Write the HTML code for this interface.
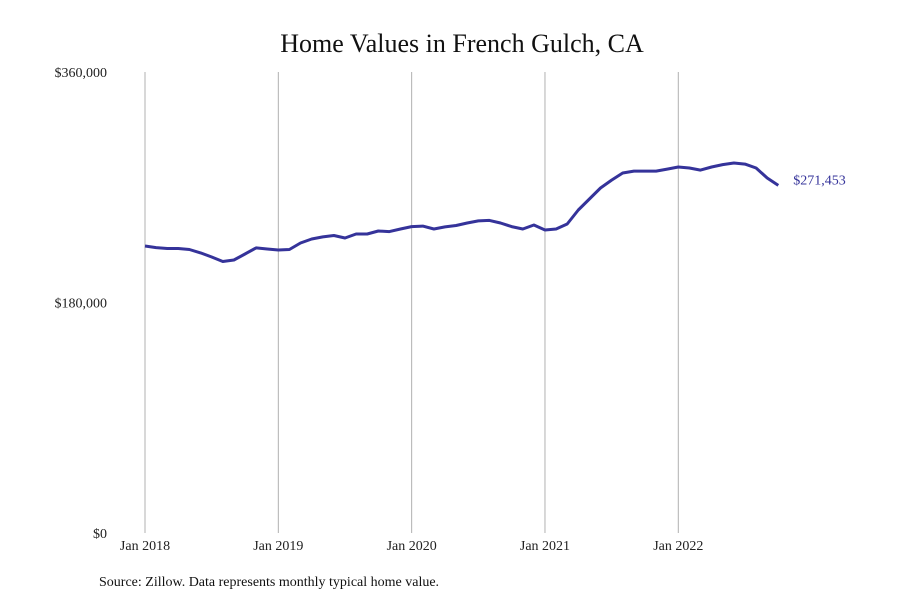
<!DOCTYPE html>
<html><head><meta charset="utf-8"><style>
body{margin:0;background:#fff;}
svg{display:block;font-family:"Liberation Serif",serif;}
</style></head><body>
<svg width="900" height="600">
<text x="462" y="52" text-anchor="middle" font-size="26" fill="#111">Home Values in French Gulch, CA</text>
<g id="grid"></g><g id="yticks"></g><g id="xticks"></g>
<path id="line" fill="none" stroke="#35339a" stroke-width="3" stroke-linejoin="round"/>
<text id="lastlbl" font-size="14" fill="#35339a"></text>
<text x="99" y="586" font-size="14" fill="#111">Source: Zillow. Data represents monthly typical home value.</text>
</svg>
<script>
const xTickLabels=["Jan 2018","Jan 2019","Jan 2020","Jan 2021","Jan 2022"];
const yTicks=[0,180000,360000];
const yTickLabels=["$0","$180,000","$360,000"];
const values=[224100,222900,222200,222200,221400,218700,215500,212000,213200,217900,222600,221800,221000,221400,226500,229600,231200,232300,230400,233500,233500,235800,235400,237400,239300,239700,237400,239000,240100,242100,243700,244100,242100,239300,237400,240500,236600,237400,241300,252200,260800,269400,275600,281100,282600,282600,282600,284200,285800,285000,283400,285800,287700,288900,288100,285000,277200,271453];
const lastLabel="$271,453";
const NS="http://www.w3.org/2000/svg";
const x=m=>145+m*(533.3/48);
const y=v=>533-v*461/360000;
function mk(t,a,p){const e=document.createElementNS(NS,t);for(const k in a)e.setAttribute(k,a[k]);p.appendChild(e);return e;}
const grid=document.getElementById('grid'),yt=document.getElementById('yticks'),xt=document.getElementById('xticks');
xTickLabels.forEach((l,i)=>{
 const gx=x(i*12);
 const g=mk('line',{x1:gx,x2:gx,y1:72,y2:533,stroke:'#b0b0b0','stroke-width':1},grid);
 
 
 const t=mk('text',{x:gx,y:550,'text-anchor':'middle','font-size':14,fill:'#222'},xt);
 t.textContent=l;
 
 
});
yTicks.forEach((v,i)=>{
 const t=mk('text',{x:107,y:y(v)+5,'text-anchor':'end','font-size':14,fill:'#222'},yt);
 t.textContent=yTickLabels[i];
 
 
});
document.getElementById('line').setAttribute('d',values.map((v,i)=>(i?'L':'M')+x(i).toFixed(1)+','+y(v).toFixed(1)).join(''));
const n=values.length-1,lb=document.getElementById('lastlbl');
lb.setAttribute('x',x(n)+15);lb.setAttribute('y',y(values[n])-1);lb.textContent=lastLabel;
</script>
</body></html>
